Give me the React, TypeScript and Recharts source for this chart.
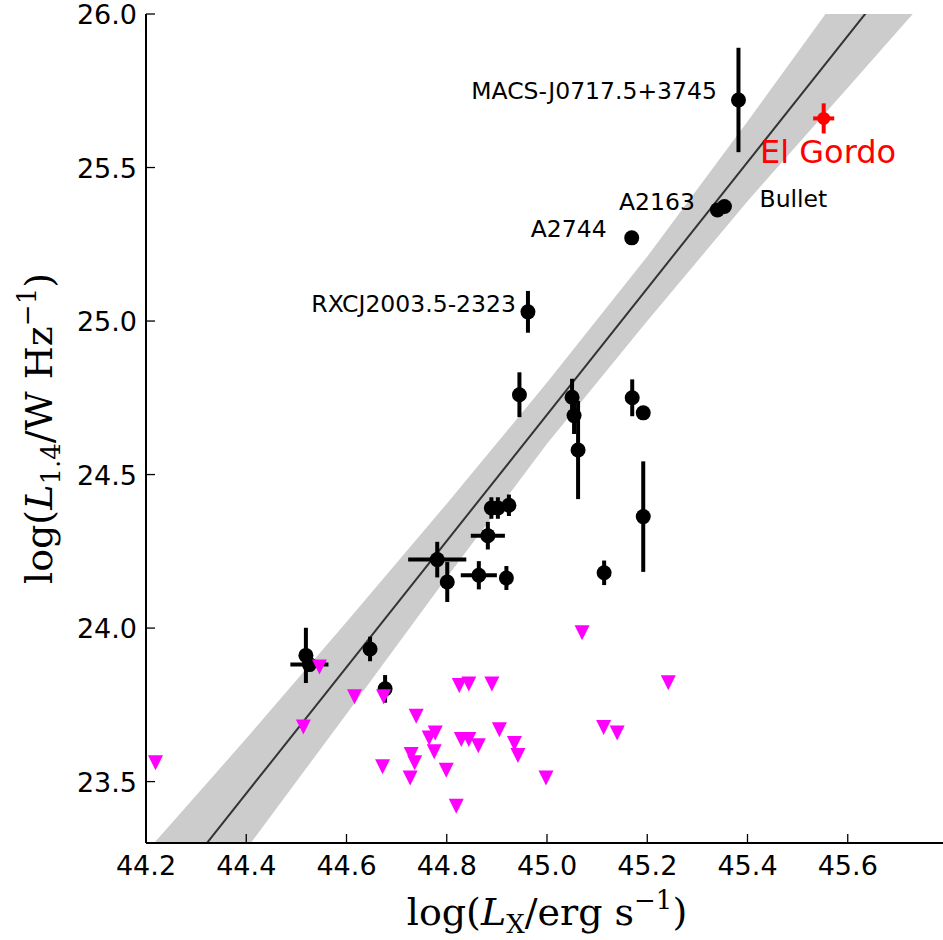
import { ComposedChart, XAxis, YAxis, Scatter, Line, Area, ErrorBar } from 'recharts'

const xTicks = [44.2, 44.4, 44.6, 44.8, 45.0, 45.2, 45.4, 45.6]
const yTicks = [23.5, 24.0, 24.5, 25.0, 25.5, 26.0]

// clusters with a detected radio halo
const detLx = [45.382, 45.340, 45.354, 45.169, 44.962, 44.945, 45.050, 45.054, 45.062, 45.170, 45.192, 45.192, 44.889, 44.902, 44.924, 44.882, 44.864, 44.919, 45.114, 44.781, 44.801, 44.519, 44.526, 44.647, 44.677]
const detLr = [25.72, 25.362, 25.373, 25.271, 25.03, 24.76, 24.752, 24.692, 24.58, 24.75, 24.701, 24.363, 24.391, 24.391, 24.40, 24.301, 24.172, 24.163, 24.18, 24.223, 24.15, 23.911, 23.881, 23.932, 23.802]
const detLxErr = [0, 0, 0, 0, 0, 0, 0, 0, 0, 0, 0, 0, 0, 0, 0, 0.034, 0.036, 0, 0, 0.058, 0, 0, 0.038, 0, 0]
const detLrErr = [0.17, 0, 0, 0, 0.068, 0.073, 0.06, 0.06, 0.16, 0.06, 0, 0.18, 0.035, 0.035, 0.035, 0.045, 0.046, 0.039, 0.04, 0.058, 0.065, 0.09, 0.02, 0.04, 0.045]

// upper limits
const limLx = [44.219, 44.514, 44.546, 44.616, 44.674, 44.672, 44.729, 44.736, 44.727, 44.739, 44.765, 44.777, 44.775, 44.799, 44.819, 44.825, 44.844, 44.890, 44.829, 44.844, 44.863, 44.905, 44.935, 44.942, 44.998, 45.070, 45.113, 45.140, 45.242]
const limLr = [23.561, 23.678, 23.873, 23.776, 23.776, 23.548, 23.588, 23.561, 23.512, 23.713, 23.642, 23.658, 23.597, 23.537, 23.42, 23.813, 23.818, 23.818, 23.637, 23.637, 23.617, 23.669, 23.624, 23.585, 23.512, 23.985, 23.676, 23.658, 23.822]

// El Gordo
const gordoLx = [45.552]
const gordoLr = [25.66]
const gordoLxErr = [0.021]
const gordoLrErr = [0.049]

// best fit and its confidence band
const fitLx = [44.2, 45.8]
const fitLr = [23.05, 26.34]
const bandLx = [44.2, 44.4, 44.6, 44.8, 45.0, 45.2, 45.4, 45.6, 45.8]
const bandLo = [22.82, 23.28, 23.72, 24.165, 24.60, 25.00, 25.39, 25.76, 26.13]
const bandHi = [23.27, 23.64, 24.02, 24.405, 24.80, 25.21, 25.65, 26.10, 26.55]

const labelText = ['MACS-J0717.5+3745', 'A2163', 'Bullet', 'A2744', 'RXCJ2003.5-2323', 'El Gordo']
const labelLx = [45.339, 45.295, 45.424, 45.119, 44.938, 45.425]
const labelLr = [25.723, 25.362, 25.371, 25.275, 25.03, 25.514]
const labelAnchor = ['end', 'end', 'start', 'end', 'end', 'start']
const labelColor = ['#000', '#000', '#000', '#000', '#000', '#ff0000']
const labelSize = [23.5, 23.5, 23.5, 23.5, 23.5, 32]

const detData = detLx.map((x, i) => ({ x, y: detLr[i], xerr: detLxErr[i], yerr: detLrErr[i] }))
const limData = limLx.map((x, i) => ({ x, y: limLr[i] }))
const gordoData = gordoLx.map((x, i) => ({ x, y: gordoLr[i], xerr: gordoLxErr[i], yerr: gordoLrErr[i] }))
const fitData = fitLx.map((x, i) => ({ x, y: fitLr[i] }))
const bandData = bandLx.map((x, i) => ({ x, band: [bandLo[i], bandHi[i]] }))
const labelData = labelText.map((text, i) => ({
  x: labelLx[i], y: labelLr[i], text, anchor: labelAnchor[i], color: labelColor[i], size: labelSize[i],
}))

const sans = 'DejaVu Sans'
const serif = 'DejaVu Serif'

function BottomTick({ x, y, payload }: any) {
  return (
    <g>
      <line x1={x} y1={y} x2={x} y2={y - 9} stroke="#000" strokeWidth={1.3} />
      <text x={x} y={y + 32} textAnchor="middle" fontSize={27} fontFamily={sans} fill="#000">
        {payload.value.toFixed(1)}
      </text>
    </g>
  )
}

function TopTick({ x, y }: any) {
  return <line x1={x} y1={y} x2={x} y2={y + 9} stroke="#000" strokeWidth={1.3} />
}

function LeftTick({ x, y, payload }: any) {
  return (
    <g>
      <line x1={x} y1={y} x2={x + 9} y2={y} stroke="#000" strokeWidth={1.3} />
      <text x={x - 9} y={y + 10} textAnchor="end" fontSize={27} fontFamily={sans} fill="#000">
        {payload.value.toFixed(1)}
      </text>
    </g>
  )
}

function RightTick({ x, y }: any) {
  return <line x1={x} y1={y} x2={x - 9} y2={y} stroke="#000" strokeWidth={1.3} />
}

function XTitle({ viewBox }: any) {
  const cx = viewBox.x + viewBox.width / 2
  return (
    <text x={cx} y={viewBox.y + 82} textAnchor="middle" fontSize={38} fontFamily={serif} fill="#000">
      log(<tspan fontStyle="italic">L</tspan>
      <tspan fontSize={26} dy={8}>X</tspan>
      <tspan dy={-8}>/erg s</tspan>
      <tspan fontSize={26} dy={-16}>−1</tspan>
      <tspan dy={16}>)</tspan>
    </text>
  )
}

function YTitle({ viewBox }: any) {
  const tx = viewBox.x + 46
  const ty = viewBox.y + viewBox.height / 2
  return (
    <text x={tx} y={ty} transform={`rotate(-90 ${tx} ${ty})`} textAnchor="middle" fontSize={38} fontFamily={serif} fill="#000">
      log(<tspan fontStyle="italic">L</tspan>
      <tspan fontSize={26} dy={8}>1.4</tspan>
      <tspan dy={-8}>/W Hz</tspan>
      <tspan fontSize={26} dy={-16}>−1</tspan>
      <tspan dy={16}>)</tspan>
    </text>
  )
}

const circle = (r: number, fill: string) => (p: any) => <circle cx={p.cx} cy={p.cy} r={r} fill={fill} />

const triangle = (p: any) => (
  <path d={`M${p.cx - 7.5},${p.cy - 7.5}L${p.cx + 7.5},${p.cy - 7.5}L${p.cx},${p.cy + 7.5}Z`} fill="#ff00ff" />
)

const labelShape = (p: any) => (
  <text x={p.cx} y={p.cy} textAnchor={p.payload.anchor} fontSize={p.payload.size} fontFamily={sans} fill={p.payload.color}>
    {p.payload.text}
  </text>
)

export default function App() {
  return (
    <div style={{ position: 'absolute', left: 0, top: 0, width: 943, height: 940, overflow: 'hidden', background: '#fff' }}>
      <ComposedChart width={950} height={940} margin={{ top: 14, right: 2, bottom: 37, left: 6 }}>
        <XAxis
          dataKey="x"
          type="number"
          domain={[44.2, 45.8]}
          allowDataOverflow
          ticks={xTicks}
          interval={0}
          height={60}
          tickSize={0}
          tickMargin={0}
          tick={<BottomTick />}
          axisLine={{ stroke: '#000', strokeWidth: 2 }}
          label={<XTitle />}
        />
        <XAxis
          xAxisId="top"
          orientation="top"
          dataKey="x"
          type="number"
          domain={[44.2, 45.8]}
          allowDataOverflow
          ticks={xTicks}
          interval={0}
          height={0}
          tickSize={0}
          tickMargin={0}
          tick={<TopTick />}
          axisLine={{ stroke: '#000', strokeWidth: 2 }}
        />
        <YAxis
          dataKey="y"
          type="number"
          domain={[23.3, 26.0]}
          allowDataOverflow
          ticks={yTicks}
          interval={0}
          width={140}
          tickSize={0}
          tickMargin={0}
          tick={<LeftTick />}
          axisLine={{ stroke: '#000', strokeWidth: 2 }}
          label={<YTitle />}
        />
        <YAxis
          yAxisId="right"
          orientation="right"
          type="number"
          domain={[23.3, 26.0]}
          allowDataOverflow
          ticks={yTicks}
          interval={0}
          width={0}
          tickSize={0}
          tickMargin={0}
          tick={<RightTick />}
          axisLine={{ stroke: '#000', strokeWidth: 2 }}
        />
        <Area
          data={bandData}
          dataKey="band"
          type="linear"
          fill="#cccccc"
          fillOpacity={1}
          stroke="none"
          isAnimationActive={false}
        />
        <Line
          data={fitData}
          dataKey="y"
          type="linear"
          stroke="#333333"
          strokeWidth={2}
          dot={false}
          isAnimationActive={false}
        />
        <Scatter data={detData} shape={circle(7.5, '#000')} isAnimationActive={false}>
          <ErrorBar dataKey="yerr" direction="y" width={0} stroke="#000" strokeWidth={4} />
          <ErrorBar dataKey="xerr" direction="x" width={0} stroke="#000" strokeWidth={4} />
        </Scatter>
        <Scatter data={limData} shape={triangle} isAnimationActive={false} />
        <Scatter data={gordoData} shape={circle(6.5, '#ff0000')} isAnimationActive={false}>
          <ErrorBar dataKey="yerr" direction="y" width={0} stroke="#ff0000" strokeWidth={4} />
          <ErrorBar dataKey="xerr" direction="x" width={0} stroke="#ff0000" strokeWidth={4} />
        </Scatter>
        <Scatter data={labelData} shape={labelShape} isAnimationActive={false} />
      </ComposedChart>
    </div>
  )
}
